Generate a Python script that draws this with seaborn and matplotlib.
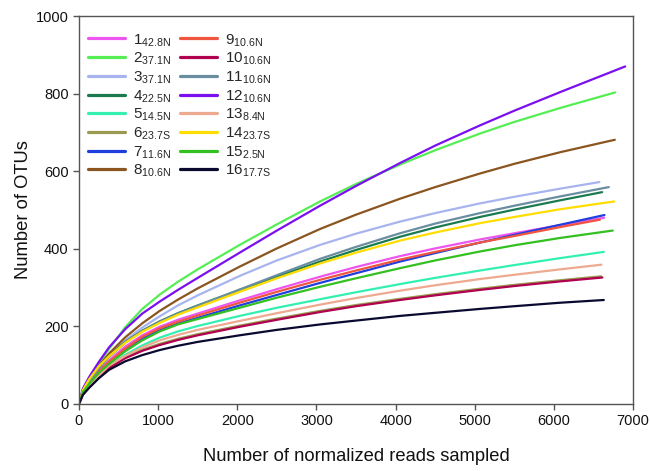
import numpy as np
import pandas as pd
import matplotlib
matplotlib.use("Agg")
import matplotlib.pyplot as plt
import seaborn as sns

# sample labels (number, latitude subscript)
samples = ["1", "2", "3", "4", "5", "6", "7", "8",
           "9", "10", "11", "12", "13", "14", "15", "16"]
subscripts = ["42.8N", "37.1N", "37.1N", "22.5N", "14.5N", "23.7S", "11.6N", "10.6N",
              "10.6N", "10.6N", "10.6N", "10.6N", "8.4N", "23.7S", "2.5N", "17.7S"]
colors = ["#ee55ee", "#55ee55", "#a8b4ee", "#1a7a50", "#33f0b0", "#9a9a50", "#1f3fdd", "#8b5520",
          "#f05540", "#b00050", "#6a8ea0", "#7a10f0", "#eeaa90", "#ffdd00", "#33c020", "#0a0a30"]

# reads sampled at which values were read
reads = [0, 50, 130, 250, 380, 585, 800, 1020, 1250, 1500, 2030, 2500,
         3045, 3500, 4055, 4500, 5065, 5500, 6080]

s1 = [0, 32, 56, 86, 112, 148, 177, 199, 217, 233, 267, 296, 328, 353, 381, 401, 424, 440, 461]
s2 = [0, 38, 66, 104, 142, 198, 245, 282, 315, 347, 410, 463, 522, 567, 617, 654, 697, 727, 763]
s3 = [0, 32, 61, 95, 125, 164, 197, 226, 254, 280, 330, 370, 410, 439, 470, 492, 517, 534, 555]
s4 = [0, 33, 61, 95, 125, 160, 189, 213, 234, 254, 294, 328, 367, 397, 431, 455, 482, 501, 525]
s5 = [0, 30, 49, 75, 97, 127, 151, 171, 187, 201, 227, 248, 270, 288, 309, 325, 344, 358, 376]
s6 = [0, 26, 44, 70, 94, 121, 140, 155, 168, 180, 202, 220, 240, 255, 271, 283, 297, 307, 319]
s7 = [0, 31, 53, 81, 105, 139, 168, 190, 207, 222, 254, 281, 312, 337, 367, 389, 416, 436, 462]
s8 = [0, 35, 63, 98, 130, 172, 208, 240, 269, 298, 354, 401, 451, 488, 529, 559, 594, 619, 649]
s9 = [0, 32, 55, 84, 109, 143, 173, 195, 212, 228, 261, 289, 320, 344, 372, 392, 416, 433, 456]
s10 = [0, 24, 43, 68, 92, 118, 137, 152, 165, 177, 199, 217, 237, 252, 268, 280, 294, 304, 316]
s11 = [0, 32, 59, 92, 121, 158, 188, 212, 233, 253, 295, 332, 374, 405, 440, 465, 492, 511, 535]
s12 = [0, 40, 70, 108, 146, 193, 233, 264, 294, 325, 390, 447, 511, 562, 621, 666, 718, 756, 804]
s13 = [0, 27, 47, 73, 99, 124, 146, 164, 178, 191, 214, 234, 256, 273, 292, 306, 322, 333, 347]
s14 = [0, 36, 64, 97, 123, 158, 186, 209, 230, 249, 289, 324, 362, 390, 421, 442, 466, 482, 502]
s15 = [0, 31, 52, 80, 103, 136, 164, 187, 205, 219, 248, 274, 302, 324, 350, 370, 393, 409, 428]
s16 = [0, 24, 42, 66, 88, 110, 126, 139, 150, 160, 177, 191, 205, 215, 227, 235, 245, 252, 261]

# final point of each curve (reads, OTUs)
end_reads = [6634, 6773, 6574, 6609, 6630, 6596, 6638, 6769,
             6580, 6612, 6693, 6900, 6600, 6760, 6743, 6630]
end_otus = [480, 803, 572, 546, 392, 329, 487, 681,
            475, 326, 559, 870, 359, 522, 447, 268]

series = [s1, s2, s3, s4, s5, s6, s7, s8, s9, s10, s11, s12, s13, s14, s15, s16]

labels = [samples[i] + r"$_{\mathregular{" + subscripts[i] + "}}$" for i in range(16)]
rows = []
for i, label in enumerate(labels):
    for x, y in zip(reads + [end_reads[i]], series[i] + [end_otus[i]]):
        rows.append((label, x, y))
df = pd.DataFrame(rows, columns=["sample", "reads", "otus"])
palette = dict(zip(labels, colors))

sns.set_theme(style="ticks")
plt.rcParams["font.family"] = ["Liberation Sans", "DejaVu Sans"]
plt.rcParams["mathtext.fontset"] = "custom"
plt.rcParams["mathtext.rm"] = "Liberation Sans"

fig = plt.figure(figsize=(6.5, 4.71), dpi=100)
ax = fig.add_axes([0.1215, 0.1423, 0.974 - 0.1215, 0.966 - 0.1423])

sns.lineplot(data=df, x="reads", y="otus", hue="sample", hue_order=labels,
             palette=palette, estimator=None, sort=True, linewidth=1.6, ax=ax)

ax.set_xlim(0, 7000)
ax.set_ylim(0, 1000)
ax.set_xticks(range(0, 7001, 1000))
ax.set_yticks(range(0, 1001, 200))
ax.tick_params(axis="both", labelsize=10.5, direction="out", length=4, width=1,
               colors="#555555", labelcolor="#111111")
for sp in ax.spines.values():
    sp.set_color("#555555")
    sp.set_linewidth(1.0)
ax.set_xlabel("Number of normalized reads sampled", fontsize=13.2, labelpad=14, color="#111111")
ax.set_ylabel("Number of OTUs", fontsize=13.2, labelpad=3, color="#111111")

handles, lbls = ax.get_legend_handles_labels()
for h in handles:
    h.set_linewidth(2.3)
leg = ax.legend(handles, lbls, ncol=2, loc="upper left", frameon=False, fontsize=11,
                handlelength=2.4, handletextpad=0.5, columnspacing=0.62,
                labelspacing=0.13, borderaxespad=0.0, bbox_to_anchor=(0.006, 0.975))

fig.savefig("out.png", dpi=100)
